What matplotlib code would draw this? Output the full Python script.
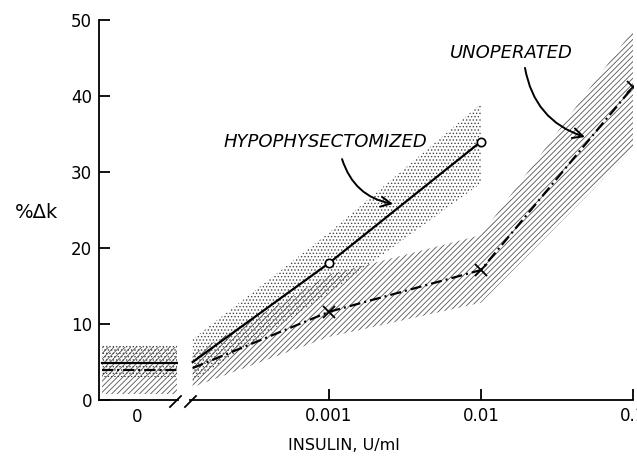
import matplotlib.pyplot as plt
from matplotlib.lines import Line2D
from matplotlib.ticker import NullLocator

# ---- data ----
insulin = [1.27e-4, 0.001, 0.01, 0.1]          # U/ml (first point = start after the axis break)
hypo_y = [5.0, 18.0, 34.0]                      # hypophysectomized, % delta k
unop_y = [4.2, 11.6, 17.1, 41.2]                # unoperated, % delta k
hypo_zero = 4.9                                 # values at zero insulin
unop_zero = 3.9

hypo_band_lo = [2.5, 14.0, 28.5]
hypo_band_hi = [8.0, 22.0, 39.0]
unop_band_lo = [1.7, 8.3, 12.8, 33.0]
unop_band_hi = [6.0, 16.5, 21.7, 48.7]
hypo_zero_band = [3.0, 7.2]
unop_zero_band = [0.8, 7.0]

yticks = [0, 10, 20, 30, 40, 50]
xticks = [0.001, 0.01, 0.1]
xticklabels = ["0.001", "0.01", "0.1"]

W, H = 637, 458
plt.rcParams['hatch.linewidth'] = 0.6
plt.rcParams['font.family'] = 'DejaVu Sans'

HATCH = '//////'
STIPPLE = '.....'
HATCH_COLOR = '#555555'
STIPPLE_COLOR = '#444444'
UNOP_DASH = (5, 1.8, 0.9, 1.8)


def px_box(x0, y0, x1, y1):
    # pixel box (top-left origin) -> figure fraction
    return [x0 / W, (H - y1) / H, (x1 - x0) / W, (y1 - y0) / H]


fig = plt.figure(figsize=(W / 100, H / 100), dpi=100)
ax0 = fig.add_axes(px_box(99, 20, 178, 400))
ax1 = fig.add_axes(px_box(190, 20, 633, 400))

# ---- zero-insulin section ----
ax0.set_xlim(0, 1)
ax0.set_ylim(0, 50)
ax0.fill_between([0.04, 0.99], unop_zero_band[0], unop_zero_band[1],
                 facecolor='none', edgecolor=HATCH_COLOR, hatch=HATCH, linewidth=0)
ax0.fill_between([0.04, 0.99], hypo_zero_band[0], hypo_zero_band[1],
                 facecolor='none', edgecolor=STIPPLE_COLOR, hatch=STIPPLE, linewidth=0)
ax0.plot([0.04, 0.99], [hypo_zero, hypo_zero], color='black', lw=1.6)
ax0.plot([0.04, 0.99], [unop_zero, unop_zero], color='black', lw=1.6, dashes=UNOP_DASH)
for s in ['top', 'right']:
    ax0.spines[s].set_visible(False)
ax0.spines['left'].set_linewidth(1.3)
ax0.spines['bottom'].set_linewidth(1.3)
ax0.set_yticks(yticks)
ax0.set_xticks([0.48])
ax0.set_xticklabels(["0"])
ax0.tick_params(axis='y', direction='in', length=8, width=1.3, pad=5, labelsize=12)
ax0.tick_params(axis='x', length=0, pad=6, labelsize=12)

# ---- log insulin section ----
ax1.set_xscale('log')
ax1.set_xlim(1.22e-4, 0.1)
ax1.set_ylim(0, 50)
ax1.fill_between(insulin, unop_band_lo, unop_band_hi,
                 facecolor='none', edgecolor=HATCH_COLOR, hatch=HATCH, linewidth=0)
ax1.fill_between(insulin[:3], hypo_band_lo, hypo_band_hi,
                 facecolor='none', edgecolor=STIPPLE_COLOR, hatch=STIPPLE, linewidth=0)
ax1.plot(insulin[:3], hypo_y, color='black', lw=1.6)
ax1.plot(insulin[1:3], hypo_y[1:], 'o', mfc='white', mec='black', ms=6, mew=1.2)
ax1.plot(insulin, unop_y, color='black', lw=1.6, dashes=UNOP_DASH)
ax1.plot(insulin[1:], unop_y[1:], 'x', color='black', ms=8, mew=1.3)

for s in ['top', 'right', 'left']:
    ax1.spines[s].set_visible(False)
ax1.spines['bottom'].set_linewidth(1.3)
ax1.set_yticks([])
ax1.set_xticks(xticks)
ax1.set_xticklabels(xticklabels)
ax1.xaxis.set_minor_locator(NullLocator())
ax1.tick_params(axis='x', direction='in', length=8, width=1.3, pad=5, labelsize=12)

# labels with curved arrows
ax1.text(0.000955, 33.9, "HYPOPHYSECTOMIZED", style='italic', fontsize=13,
         ha='center', va='center')
ax1.annotate("", xy=(2.64e-3, 25.8), xytext=(1.22e-3, 31.7),
             arrowprops=dict(arrowstyle='->', color='black', lw=1.4, mutation_scale=18,
                             connectionstyle='arc3,rad=0.3', shrinkA=0, shrinkB=0))
ax1.text(0.01574, 45.7, "UNOPERATED", style='italic', fontsize=13,
         ha='center', va='center')
ax1.annotate("", xy=(0.0483, 34.6), xytext=(0.01948, 43.7),
             arrowprops=dict(arrowstyle='->', color='black', lw=1.4, mutation_scale=18,
                             connectionstyle='arc3,rad=0.3', shrinkA=0, shrinkB=0))

# axis break marks
for x0 in [170, 185]:
    fig.add_artist(Line2D([x0 / W, (x0 + 11) / W], [(H - 407) / H, (H - 396) / H],
                          color='black', lw=1.3))

fig.text(37 / W, 1 - 212 / H, "%Δk", fontsize=14, ha='center', va='center')
fig.text(344 / W, 1 - 445 / H, "INSULIN, U/ml", fontsize=11.5, ha='center', va='center')

fig.savefig("out.png", dpi=100)
